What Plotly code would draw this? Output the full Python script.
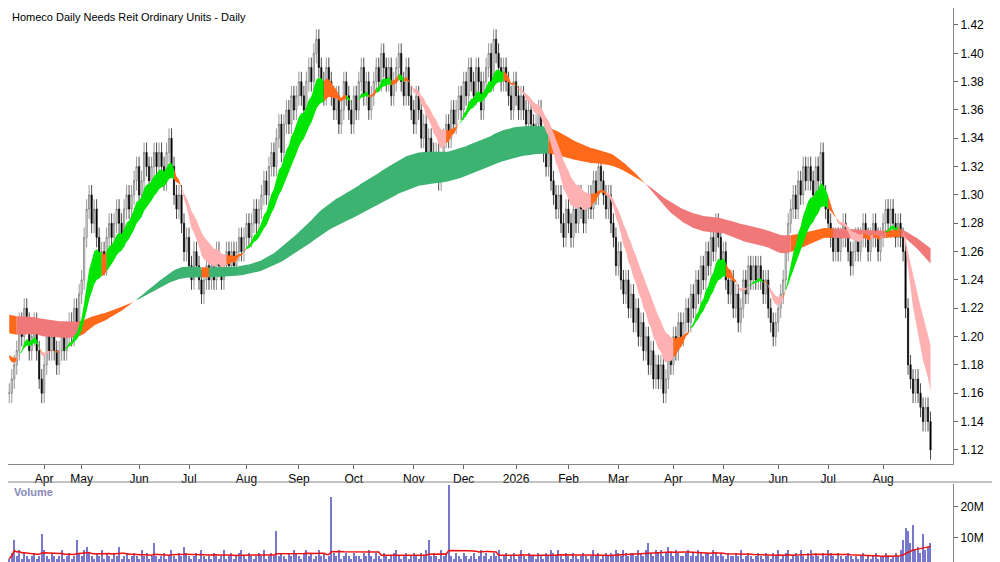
import pandas as pd
import plotly.graph_objects as go
from plotly.subplots import make_subplots

title = "Homeco Daily Needs Reit Ordinary Units - Daily"

# daily closes, rows of 10 trading days
closes = [
    1.16, 1.17, 1.18, 1.19, 1.21, 1.20, 1.22, 1.21, 1.19, 1.20,
    1.21, 1.19, 1.17, 1.16, 1.18, 1.20, 1.19, 1.20, 1.19, 1.18,
    1.19, 1.20, 1.19, 1.20, 1.21, 1.20, 1.22, 1.21, 1.23, 1.24,
    1.27, 1.29, 1.30, 1.28, 1.29, 1.27, 1.25, 1.26, 1.25, 1.27,
    1.28, 1.27, 1.28, 1.29, 1.28, 1.27, 1.29, 1.30, 1.29, 1.30,
    1.31, 1.32, 1.30, 1.31, 1.33, 1.32, 1.31, 1.32, 1.33, 1.32,
    1.33, 1.32, 1.31, 1.33, 1.34, 1.32, 1.30, 1.29, 1.30, 1.28,
    1.26, 1.27, 1.25, 1.24, 1.26, 1.25, 1.24, 1.23, 1.24, 1.25,
    1.24, 1.25, 1.24, 1.26, 1.25, 1.24, 1.25, 1.26, 1.25, 1.26,
    1.25, 1.26, 1.27, 1.26, 1.27, 1.28, 1.27, 1.28, 1.29, 1.28,
    1.29, 1.30, 1.31, 1.30, 1.32, 1.33, 1.32, 1.34, 1.35, 1.33,
    1.35, 1.36, 1.35, 1.37, 1.36, 1.37, 1.38, 1.37, 1.36, 1.38,
    1.39, 1.38, 1.40, 1.41, 1.39, 1.38, 1.37, 1.39, 1.38, 1.37,
    1.36, 1.37, 1.35, 1.36, 1.38, 1.37, 1.36, 1.35, 1.37, 1.36,
    1.38, 1.39, 1.37, 1.38, 1.36, 1.37, 1.38, 1.39, 1.38, 1.40,
    1.39, 1.38, 1.39, 1.37, 1.38, 1.39, 1.40, 1.38, 1.37, 1.39,
    1.37, 1.36, 1.35, 1.37, 1.36, 1.34, 1.35, 1.33, 1.34, 1.33,
    1.32, 1.33, 1.31, 1.32, 1.34, 1.35, 1.34, 1.36, 1.35, 1.36,
    1.37, 1.36, 1.38, 1.37, 1.39, 1.38, 1.37, 1.39, 1.38, 1.36,
    1.38, 1.39, 1.40, 1.38, 1.41, 1.40, 1.39, 1.38, 1.39, 1.38,
    1.37, 1.36, 1.38, 1.37, 1.36, 1.37, 1.36, 1.35, 1.36, 1.35,
    1.34, 1.35, 1.36, 1.34, 1.33, 1.32, 1.33, 1.31, 1.30, 1.29,
    1.30, 1.28, 1.27, 1.29, 1.28, 1.27, 1.29, 1.28, 1.30, 1.29,
    1.28, 1.29, 1.30, 1.29, 1.31, 1.30, 1.32, 1.31, 1.30, 1.29,
    1.30, 1.28, 1.27, 1.25, 1.26, 1.24, 1.23, 1.24, 1.22, 1.23,
    1.21, 1.22, 1.20, 1.21, 1.19, 1.20, 1.18, 1.19, 1.17, 1.18,
    1.17, 1.18, 1.16, 1.17, 1.19, 1.18, 1.20, 1.19, 1.21, 1.20,
    1.21, 1.22, 1.21, 1.23, 1.22, 1.24, 1.23, 1.25, 1.24, 1.26,
    1.25, 1.27, 1.26, 1.28, 1.27, 1.25, 1.26, 1.24, 1.23, 1.24,
    1.22, 1.23, 1.21, 1.22, 1.24, 1.23, 1.25, 1.24, 1.25, 1.24,
    1.25, 1.24, 1.23, 1.24, 1.22, 1.21, 1.20, 1.21, 1.22, 1.23,
    1.24, 1.26, 1.28, 1.29, 1.30, 1.29, 1.31, 1.30, 1.32, 1.31,
    1.32, 1.31, 1.30, 1.32, 1.31, 1.33, 1.30, 1.29, 1.28, 1.27,
    1.26, 1.27, 1.26, 1.27, 1.28, 1.27, 1.26, 1.25, 1.26, 1.27,
    1.26, 1.27, 1.28, 1.27, 1.26, 1.27, 1.28, 1.27, 1.26, 1.27,
    1.28, 1.29, 1.28, 1.29, 1.28, 1.27, 1.28, 1.27, 1.26, 1.22,
    1.18, 1.17, 1.16, 1.17, 1.16, 1.15, 1.14, 1.15, 1.14, 1.12,
]

# volume in millions
volumes = [
    3, 5, 9, 4, 6, 3, 5, 4, 3, 4,
    5, 3, 4, 11, 6, 4, 3, 5, 4, 3,
    4, 6, 3, 4, 5, 3, 4, 9, 5, 4,
    6, 7, 5, 4, 3, 5, 4, 6, 3, 5,
    4, 3, 5, 4, 7, 3, 4, 5, 3, 4,
    5, 4, 3, 6, 4, 5, 3, 4, 8, 4,
    3, 4, 5, 3, 4, 6, 4, 3, 5, 4,
    7, 5, 4, 3, 4, 5, 3, 6, 4, 3,
    4, 3, 5, 4, 3, 4, 6, 3, 4, 5,
    3, 4, 5, 6, 4, 3, 5, 4, 3, 4,
    5, 4, 6, 3, 4, 5, 4, 12, 4, 5,
    4, 3, 5, 4, 6, 5, 4, 3, 5, 6,
    4, 5, 3, 4, 6, 4, 5, 3, 4, 23,
    5, 4, 6, 3, 4, 5, 4, 3, 5, 4,
    4, 3, 5, 4, 6, 4, 3, 5, 4, 3,
    5, 4, 3, 4, 5, 6, 4, 3, 4, 5,
    3, 4, 5, 4, 3, 5, 4, 6, 9, 4,
    5, 4, 3, 6, 4, 5, 27, 4, 3, 5,
    4, 3, 5, 4, 3, 4, 5, 3, 4, 6,
    4, 5, 3, 4, 5, 4, 6, 3, 4, 5,
    3, 4, 5, 3, 4, 6, 4, 3, 5, 4,
    4, 3, 5, 4, 3, 5, 4, 6, 5, 4,
    6, 4, 3, 5, 4, 3, 5, 4, 3, 4,
    5, 4, 3, 4, 6, 4, 5, 3, 4, 5,
    4, 5, 4, 6, 5, 4, 6, 5, 4, 5,
    5, 4, 6, 5, 4, 6, 8, 5, 4, 6,
    5, 6, 4, 5, 7, 5, 4, 6, 5, 4,
    4, 5, 6, 4, 5, 4, 6, 5, 4, 5,
    5, 4, 6, 5, 4, 5, 4, 3, 5, 4,
    4, 5, 4, 6, 3, 4, 5, 4, 3, 4,
    5, 4, 3, 5, 4, 3, 5, 4, 6, 3,
    4, 5, 6, 3, 4, 5, 4, 6, 4, 3,
    5, 6, 4, 5, 4, 3, 5, 4, 6, 5,
    4, 3, 5, 4, 3, 4, 5, 4, 3, 4,
    3, 4, 5, 3, 4, 3, 4, 5, 3, 4,
    4, 5, 4, 3, 4, 5, 4, 6, 9, 13,
    12, 8, 14, 6, 7, 5, 11, 6, 7, 8,
]

month_labels = ["Apr", "May", "Jun", "Jul", "Aug", "Sep", "Oct", "Nov", "Dec",
                "2026", "Feb", "Mar", "Apr", "May", "Jun", "Jul", "Aug"]
month_start_idx = [14, 29, 52, 72, 95, 116, 138, 162, 182, 203, 224, 244,
                   266, 286, 308, 328, 350]
price_ticks = [1.12, 1.14, 1.16, 1.18, 1.20, 1.22, 1.24, 1.26, 1.28, 1.30,
               1.32, 1.34, 1.36, 1.38, 1.40, 1.42]
long_fast_seed = 1.203
long_slow_seed = 1.216
short_seed = 1.19

df = pd.DataFrame({"close": closes, "vol": volumes})
df["open"] = df["close"].shift(1).fillna(df["close"])
df["high"] = df[["open", "close"]].max(axis=1) + 0.007
df["low"] = df[["open", "close"]].min(axis=1) - 0.007
x = list(range(len(df)))


def ema(span, seed, pad=60):
    s = pd.concat([pd.Series([seed] * pad), df["close"]], ignore_index=True)
    return s.ewm(span=span, adjust=False).mean().iloc[pad:].reset_index(drop=True)


short_fast = ema(10, short_seed, 5)
short_slow = ema(20, short_seed, 5)
long_fast = ema(120, long_fast_seed, 250)
long_slow = ema(190, long_slow_seed, 250)
vol_ma = df["vol"].rolling(20, min_periods=1).mean()

fig = make_subplots(rows=2, cols=1, shared_xaxes=False)


def band(fast, slow, colors, trend):
    """draw filled band between two EMAs, coloured by trend"""
    state = []
    for i in range(len(fast)):
        rising = i < 3 or trend[i] >= trend[i - 3]
        if fast[i] > slow[i] and rising:
            state.append(0)
        elif fast[i] < slow[i] and not rising:
            state.append(2)
        else:
            state.append(1)
    start = 0
    for i in range(1, len(fast) + 1):
        if i == len(fast) or state[i] != state[start]:
            seg = list(range(start, min(i + 1, len(fast))))
            xs = seg + seg[::-1]
            ys = [fast[j] for j in seg] + [slow[j] for j in seg[::-1]]
            fig.add_trace(go.Scatter(x=xs, y=ys, fill="toself", mode="lines",
                                     line=dict(width=0, color=colors[state[start]]),
                                     fillcolor=colors[state[start]],
                                     hoverinfo="skip", showlegend=False), row=1, col=1)
            start = i


band(long_fast, long_slow, ["#3cb371", "#ff6a1a", "#f07878"], long_slow)
band(short_fast, short_slow, ["#00e600", "#ff6a1a", "#ffb0b0"], short_fast)

fig.add_trace(go.Candlestick(
    x=x, open=df["open"], high=df["high"], low=df["low"], close=df["close"],
    increasing=dict(line=dict(color="#6a6a6a", width=0.7), fillcolor="#ffffff"),
    decreasing=dict(line=dict(color="#000000", width=0.7), fillcolor="#000000"),
    whiskerwidth=0, showlegend=False), row=1, col=1)

fig.add_trace(go.Bar(x=x, y=df["vol"] * 1e6, marker_color="#7777cc",
                     marker_line_width=0, width=0.45, showlegend=False), row=2, col=1)
fig.add_trace(go.Scatter(x=x, y=vol_ma * 1e6, mode="lines",
                         line=dict(color="#ee1111", width=1.5), showlegend=False),
              row=2, col=1)

xr = [-0.5, 378]
bold = dict(size=12, family="Arial Black, Liberation Sans")
fig.update_layout(
    width=1000, height=562, margin=dict(l=0, r=0, t=0, b=0),
    paper_bgcolor="white", plot_bgcolor="white",
    font=dict(family="Arial, Liberation Sans", size=12, color="black"),
    xaxis=dict(domain=[0, 0.945], range=xr, rangeslider=dict(visible=False),
               tickvals=month_start_idx, ticktext=month_labels, ticks="outside",
               ticklen=4, tickcolor="#666", showgrid=False, zeroline=False,
               tickfont=bold, showline=True, linecolor="#888"),
    yaxis=dict(domain=[1 - 456 / 562, 1], range=[1.110, 1.432], side="right",
               tickvals=price_ticks, tickformat=".2f", showgrid=False,
               zeroline=False, ticks="outside", ticklen=4, tickcolor="#666",
               tickfont=bold, showline=True, linecolor="#888"),
    xaxis2=dict(domain=[0, 0.945], range=xr, showticklabels=False,
                showgrid=False, zeroline=False, showline=False),
    yaxis2=dict(domain=[0, 1 - 476 / 562], range=[-0.65e6, 27.4e6], side="right",
                tickvals=[10e6, 20e6], ticktext=["10M", "20M"], showgrid=False,
                zeroline=False, ticks="outside", ticklen=4, tickcolor="#666",
                tickfont=bold, showline=True, linecolor="#888"),
    bargap=0,
)

fig.add_shape(type="line", xref="paper", yref="paper", x0=0, x1=1,
              y0=1 - 474 / 562, y1=1 - 474 / 562, line=dict(color="#888", width=1))

fig.add_annotation(text=title, xref="paper", yref="paper", x=0.002, y=0.999,
                   xanchor="left", yanchor="top", showarrow=False,
                   font=dict(size=11, color="black"))
fig.add_annotation(text="<b>Volume</b>", xref="paper", yref="paper", x=0.004,
                   y=1 - 476 / 562, xanchor="left", yanchor="top", showarrow=False,
                   font=dict(size=11, color="#8888bb"))

fig.write_html("out.html")
